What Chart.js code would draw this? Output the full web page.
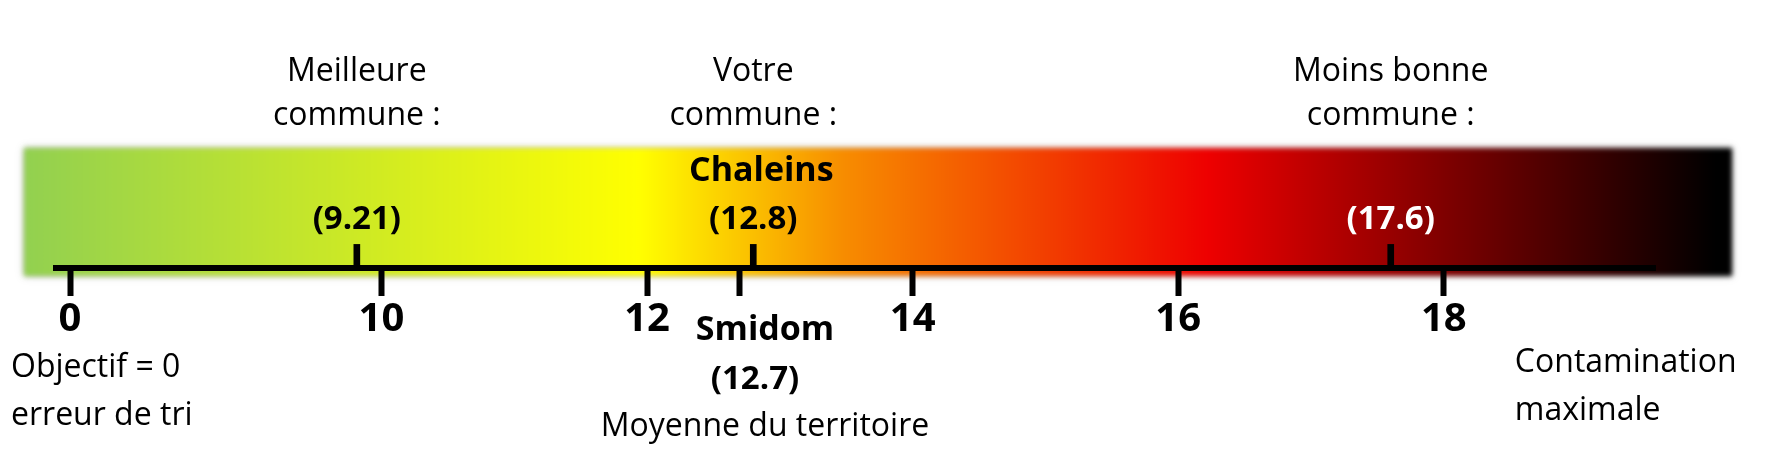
<!DOCTYPE html>
<html lang="fr">
<head>
<meta charset="utf-8">
<title>Erreurs de tri</title>
<script src="https://cdn.jsdelivr.net/npm/chart.js@4/dist/chart.umd.min.js"></script>
<style>
  html, body { margin: 0; padding: 0; background: #fff; }
  canvas { display: block; }
</style>
</head>
<body>
<canvas id="scaleChart" width="1771" height="457"></canvas>
<script>
// values
const tickValues = [0, 10, 12, 14, 16, 18];
const markerValues = [9.21, 12.8, 17.6];
const markerTitles = [["Meilleure", "commune :"], ["Votre", "commune :"], ["Moins bonne", "commune :"]];
const markerNames = ["", "Chaleins", ""];
const averageValue = 12.7;
const averageName = "Smidom";
const averageNote = "Moyenne du territoire";
const startNote = ["Objectif = 0", "erreur de tri"];
const endNote = ["Contamination", "maximale"];

// linear scale whose part below `breakAt` is squeezed
class BrokenLinearScale extends Chart.LinearScale {
  toUnits(v) {
    const b = this.options.breakAt, s = this.options.squeeze;
    return v < b ? b - (b - v) * s : v;
  }
  getPixelForValue(v) {
    if (v === null || v === undefined || isNaN(v)) return NaN;
    const lo = this.toUnits(this.min), hi = this.toUnits(this.max);
    return this.getPixelForDecimal((this.toUnits(+v) - lo) / (hi - lo));
  }
  getValueForPixel(p) {
    const lo = this.toUnits(this.min), hi = this.toUnits(this.max);
    const u = lo + this.getDecimalForPixel(p) * (hi - lo);
    const b = this.options.breakAt, s = this.options.squeeze;
    return u < b ? b - (b - u) / s : u;
  }
}
BrokenLinearScale.id = "brokenLinear";
BrokenLinearScale.defaults = Chart.LinearScale.defaults;
Chart.register(BrokenLinearScale);

const REG = "'Open Sans', sans-serif";

// the coloured band behind the axis
const bandPlugin = {
  id: "band",
  beforeDraw(chart) {
    const { ctx, chartArea: a } = chart;
    const left = a.left - 32, right = a.right + 77;
    const top = a.top - 2, bottom = a.bottom + 8;
    const g = ctx.createLinearGradient(left, 0, right, 0);
    g.addColorStop(0, "#92d050");
    g.addColorStop(0.36, "#ffff00");
    g.addColorStop(0.48, "#f78c00");
    g.addColorStop(0.693, "#ee0000");
    g.addColorStop(0.99, "#000000");
    g.addColorStop(1, "#000000");
    ctx.save();
    ctx.fillStyle = "#fff";
    ctx.fillRect(0, 0, chart.width, chart.height);
    ctx.shadowColor = "rgba(0,0,0,0.25)";
    ctx.shadowBlur = 6;
    ctx.filter = "blur(2.5px)";
    ctx.fillStyle = g;
    ctx.fillRect(left, top, right - left, bottom - top);
    ctx.restore();
  }
};

// titles and value labels around the markers
const textPlugin = {
  id: "texts",
  afterDraw(chart) {
    const { ctx } = chart;
    const x = chart.scales.x;
    const axisY = chart.chartArea.bottom;
    ctx.save();
    ctx.textAlign = "center";
    ctx.textBaseline = "middle";

    markerValues.forEach((v, i) => {
      const px = x.getPixelForValue(v);
      ctx.fillStyle = "#000";
      ctx.font = "32px " + REG;
      ctx.fillText(markerTitles[i][0], px, axisY - 196);
      ctx.fillText(markerTitles[i][1], px, axisY - 152);
      if (markerNames[i]) {
        ctx.font = "bold 34px " + REG;
        ctx.fillText(markerNames[i], px + 8, axisY - 97);
      }
      ctx.font = "bold 33px " + REG;
      ctx.fillStyle = v > 16 ? "#fff" : "#000";
      ctx.fillText("(" + v + ")", px, axisY - 48);
    });

    const ax = x.getPixelForValue(averageValue) + 25;
    ctx.fillStyle = "#000";
    ctx.font = "bold 34px " + REG;
    ctx.fillText(averageName, ax, axisY + 62);
    ctx.font = "bold 33px " + REG;
    ctx.fillText("(" + averageValue + ")", ax - 10, axisY + 112);
    ctx.font = "32px " + REG;
    ctx.fillText(averageNote, ax, axisY + 159);

    ctx.textAlign = "left";
    const x0 = x.getPixelForValue(tickValues[0]) - 59;
    ctx.fillText(startNote[0], x0, axisY + 100);
    ctx.fillText(startNote[1], x0, axisY + 148);
    const x1 = x.getPixelForValue(tickValues[tickValues.length - 1]) + 71;
    ctx.fillText(endNote[0], x1, axisY + 95);
    ctx.fillText(endNote[1], x1, axisY + 143);
    ctx.restore();
  }
};

new Chart(document.getElementById("scaleChart"), {
  type: "bar",
  data: {
    datasets: [{
      data: markerValues.map(v => ({ x: v, y: [0, 1] })),
      backgroundColor: "#000",
      barThickness: 6,
      grouped: false
    }]
  },
  options: {
    responsive: false,
    devicePixelRatio: 1,
    animation: false,
    events: [],
    layout: { padding: { top: 150, left: 56, right: 116, bottom: 113 } },
    plugins: { legend: { display: false }, tooltip: { enabled: false } },
    scales: {
      x: {
        type: "brokenLinear",
        offset: false,
        breakAt: 10,
        squeeze: 0.2345,
        min: -0.45,
        max: 19.59,
        afterBuildTicks(scale) {
          scale.ticks = tickValues.concat(averageValue).sort((a, b) => a - b).map(value => ({ value }));
        },
        grid: { offset: false, drawOnChartArea: false, drawTicks: true, tickLength: 28, tickWidth: 6, tickColor: "#000" },
        border: { display: true, width: 6, color: "#000" },
        ticks: {
          autoSkip: false,
          maxRotation: 0,
          padding: 4,
          color: "#000",
          font: { family: REG, size: 40, weight: "bold", lineHeight: 1 },
          callback: v => (v === averageValue ? "" : v)
        }
      },
      // markers span 0..1, i.e. a fifth of the plot height
      y: { display: false, min: 0, max: 5 }
    }
  },
  plugins: [bandPlugin, textPlugin]
});
</script>
</body>
</html>
